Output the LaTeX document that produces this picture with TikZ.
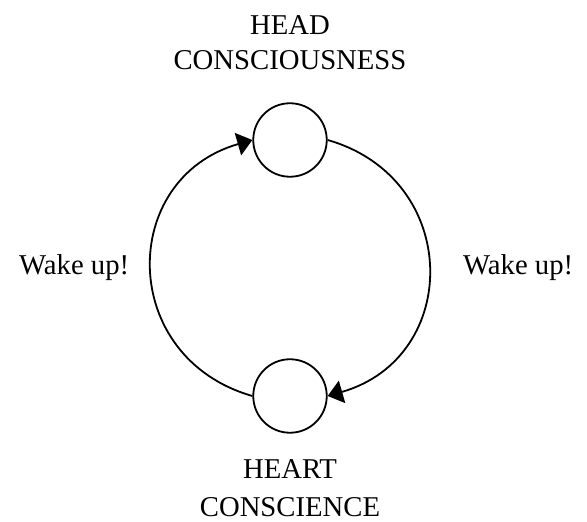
\documentclass[tikz,border=0pt]{standalone}
\usepackage{fontspec}
\setmainfont{Liberation Serif}
\usepackage{tikz}
\usetikzlibrary{positioning,arrows.meta}
\tikzset{
    centre/.style={
        draw,
        circle,
        line width=1.8pt,
        inner sep=0pt,
        minimum size=73.5pt
    },
    title/.style={
        align=center,
        inner sep=0pt,
        font=\fontsize{28.7}{35.5}\selectfont
    },
    call/.style={
        inner sep=0pt,
        font=\fontsize{28.7}{35.5}\selectfont
    },
    wake/.style={-{Triangle[length=15pt,width=23pt]}, line width=1.8pt}
}

\begin{document}
\begin{tikzpicture}[x=1pt,y=1pt]

\useasboundingbox (0,0) rectangle (587,522);

% Circles
\node[centre] (head) at (290,382) {};
\node[centre] (heart) at (290,126) {};

% Labels
\node[title, anchor=north] (headtext) at (290,507)
{HEAD\\CONSCIOUSNESS};

\node[title, anchor=south, font=\fontsize{28.7}{38}\selectfont] (hearttext) at (290,5)
{HEART\\CONSCIENCE};

\node[call, anchor=base west] (wakeleft) at (19,247) {Wake up!};
\node[call, anchor=base west] (wakeright) at (463,247) {Wake up!};

% ------------------------------------------------------------
% Loop
% ------------------------------------------------------------

\draw[wake] (heart.west) to[out=164,in=196,looseness=1.4] (head.west);
\draw[wake] (head.east) to[out=-16,in=16,looseness=1.4] (heart.east);

\end{tikzpicture}
\end{document}
